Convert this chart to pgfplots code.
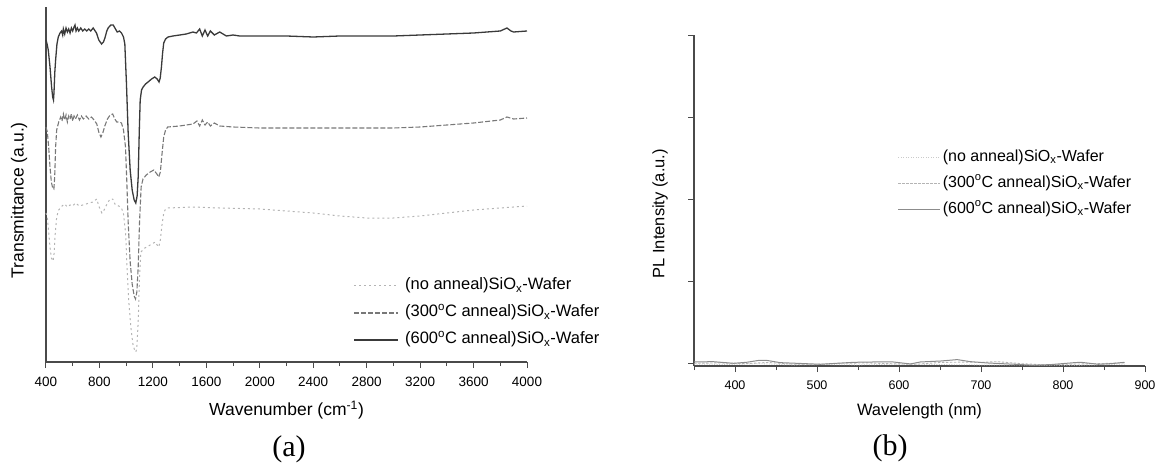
\documentclass[border=0pt]{standalone}
\usepackage{fontspec}
\setmainfont{Liberation Sans}
\newfontfamily\capfont{Liberation Serif}
\usepackage{pgfplots}
\pgfplotsset{compat=1.18}
\definecolor{axisgray}{HTML}{4A4A4A}
\definecolor{c600}{HTML}{3A3A3A}
\definecolor{c300}{HTML}{787878}
\definecolor{c000}{HTML}{B4B4B4}
\definecolor{p600}{HTML}{8C8C8C}
\definecolor{p300}{HTML}{B4B4B4}
\definecolor{p000}{HTML}{CACACA}

\pgfplotsset{
  panel/.style={
    scale only axis, anchor=south west,
    axis lines=left, axis line style={-, axisgray, line width=1.2pt},
    tick align=outside, tick style={axisgray, line width=1pt},
    major tick length=6pt, minor tick length=4pt,
    /pgf/number format/assume math mode=true,
    /pgf/number format/1000 sep={},
    scaled ticks=false, clip=false,
    legend cell align=left,
  },
}

\begin{document}
\begin{tikzpicture}
\path[use as bounding box] (0,0) rectangle (1159pt,464pt);

% (a) FTIR
\begin{axis}[panel,
  at={(46pt,102pt)}, width=481pt, height=355pt,
  xmin=400, xmax=4000, ymin=0, ymax=355,
  xtick={400,800,...,4000}, minor xtick={600,1000,...,3800},
  ytick=\empty,
  xticklabel style={font=\fontsize{13.5}{14}\selectfont, yshift=-6pt},
  xlabel={Wavenumber (cm\textsuperscript{-1})},
  ylabel={Transmittance (a.u.)},
  xlabel style={font=\fontsize{17.5}{18}\selectfont, at={(axis description cs:0.5,-0.135)}, anchor=center},
  ylabel style={font=\fontsize{17.5}{18}\selectfont, at={(axis description cs:-0.056,0.456)}, anchor=center},
  legend image code/.code={\draw[#1] (0pt,0pt) -- (44pt,0pt);},
  legend style={draw=none, fill=none, inner sep=0pt, outer sep=0pt,
    at={(rel axis cs:0.640,0.236)}, anchor=north west,
    font=\fontsize{16.5}{17}\selectfont, row sep=11.5pt,
    nodes={inner sep=0pt, text height=11.5pt, text depth=4pt},
    /tikz/every odd column/.append style={column sep=6pt}},
]
\addplot[c000, line width=1pt, dash pattern=on 2pt off 3pt] coordinates {
(400,149)(410,145)(420,130)(430,115)(440,104)(453,101)(460,108)(470,130)(480,145)(495,152)
(520,156)(540,158)(560,155)(580,157)(600,156)(620,159)(650,156)(700,158)(750,160)(780,163)
(795,156)(818,149)(835,152)(860,159)(880,163)(899,163)(920,157)(945,156)(965,154)(980,148)
(995,130)(1005,100)(1020,60)(1035,35)(1050,18)(1065,11)(1072,10)(1080,14)(1090,40)(1100,85)
(1110,110)(1140,114)(1180,117)(1218,120)(1232,117)(1244,115)(1256,122)(1268,137)(1281,149)
(1295,153)(1311,154)(1500,155)(1700,154)(2000,153)(2200,151)(2400,149)(2600,146)(2800,144)
(3000,144)(3200,146)(3400,149)(3600,152)(3800,154)(4000,156)};
\addplot[c300, line width=1.1pt, dash pattern=on 5pt off 2pt] coordinates {
(400,235)(410,230)(420,215)(430,195)(440,180)(450,174)(459,173)(465,185)(472,215)(480,232)
(495,240)(510,245)(520,241)(530,248)(540,242)(550,247)(560,240)(570,246)(580,243)(590,248)
(600,241)(610,246)(620,243)(635,247)(650,242)(665,246)(680,243)(700,246)(720,243)(740,245)
(760,242)(780,238)(795,230)(811,225)(825,229)(840,236)(860,243)(880,247)(899,248)(915,243)
(930,240)(950,240)(965,239)(980,232)(995,215)(1005,180)(1015,140)(1030,100)(1045,78)(1060,66)
(1070,63)(1080,70)(1090,95)(1100,140)(1112,175)(1126,183)(1150,187)(1180,190)(1207,192)
(1230,188)(1244,185)(1256,190)(1266,205)(1281,225)(1295,232)(1311,235)(1400,236)(1500,238)
(1530,241)(1550,236)(1570,242)(1590,237)(1610,240)(1630,236)(1660,239)(1700,236)(1800,235)
(2000,234)(2200,234)(2400,234)(2600,234)(2800,234)(3000,234)(3200,235)(3400,237)(3600,239)
(3800,242)(3850,245)(3900,243)(4000,244)};
\addplot[c600, line width=1.3pt] coordinates {
(400,322)(408,318)(417,312)(430,295)(442,275)(450,265)(456,262)(460,270)(466,290)(472,302)
(482,318)(492,325)(505,329)(517,331)(525,327)(530,333)(540,328)(550,334)(560,330)(570,333)
(580,329)(590,334)(600,331)(610,335)(617,337)(625,331)(635,334)(645,331)(660,334)(675,331)
(690,333)(705,331)(720,333)(735,331)(753,334)(778,329)(795,322)(816,318)(830,320)
(841,324)(855,331)(865,334)(885,337)(903,337)(920,333)(933,330)(950,331)(965,329)(980,325)
(990,318)(1002,279)(1015,229)(1030,192)(1045,172)(1060,162)(1072,159)(1082,166)(1090,185)
(1098,230)(1105,262)(1115,272)(1127,275)(1145,278)(1164,280)(1190,283)(1214,285)(1232,283)
(1246,280)(1255,284)(1264,295)(1272,308)(1281,319)(1295,323)(1313,325)(1350,326)(1401,327)
(1450,328)(1500,330)(1526,329)(1550,333)(1570,326)(1590,332)(1610,326)(1630,331)(1660,327)
(1700,330)(1750,326)(1800,327)(1850,326)(2000,326)(2200,326)(2400,325)(2600,326)(2800,326)
(3000,326)(3200,327)(3400,328)(3600,329)(3800,331)(3850,334)(3880,331)(3900,330)(4000,331)};
\legend{(no anneal)SiO\textsubscript{x}-Wafer,
        (300\textsuperscript{o}C anneal)SiO\textsubscript{x}-Wafer,
        (600\textsuperscript{o}C anneal)SiO\textsubscript{x}-Wafer}
\end{axis}

% (b) PL
\begin{axis}[panel,
  at={(694pt,98pt)}, width=451pt, height=331pt,
  xmin=350, xmax=900, ymin=-0.033, ymax=4,
  xtick={400,500,...,900}, minor xtick={350,450,...,850},
  ytick={0,1,2,3,4}, yticklabels={},
  xticklabel style={font=\fontsize{12.5}{13}\selectfont, yshift=-5pt},
  xlabel={Wavelength (nm)},
  ylabel={PL Intensity (a.u.)},
  xlabel style={font=\fontsize{16.5}{17}\selectfont, at={(axis description cs:0.5,-0.136)}, anchor=center},
  ylabel style={font=\fontsize{16.5}{17}\selectfont, at={(axis description cs:-0.075,0.46)}, anchor=center},
  legend image code/.code={\draw[#1] (0pt,0pt) -- (42pt,0pt);},
  legend style={draw=none, fill=none, inner sep=0pt, outer sep=0pt,
    at={(rel axis cs:0.452,0.654)}, anchor=north west,
    font=\fontsize{16}{17}\selectfont, row sep=10.5pt,
    nodes={inner sep=0pt, text height=11.5pt, text depth=4pt},
    /tikz/every odd column/.append style={column sep=2pt}},
]
\addplot[p000, line width=0.8pt, dash pattern=on 1pt off 1.5pt] coordinates {
(350,-0.010)(390,-0.015)(430,-0.005)(470,-0.020)(510,-0.015)(550,-0.020)(600,-0.010)
(650,-0.015)(700,-0.020)(750,-0.020)(800,-0.025)(840,-0.020)(875,-0.010)};
\addplot[p300, line width=0.9pt, dash pattern=on 2.5pt off 1.5pt] coordinates {
(350,0.000)(380,0.005)(410,-0.005)(440,0.010)(470,-0.010)(500,-0.012)(530,0.000)(560,0.005)
(590,-0.005)(620,-0.012)(650,0.010)(680,0.015)(700,0.012)(720,0.020)(750,-0.005)(780,-0.020)
(810,-0.010)(840,-0.005)(875,0.005)};
\addplot[p600, line width=1pt] coordinates {
(350,0.016)(373,0.020)(398,0.000)(414,0.012)(430,0.037)(439,0.035)(455,0.008)(475,0.000)
(504,-0.012)(524,0.000)(545,0.012)(569,0.016)(593,0.016)(614,-0.008)(626,0.016)(651,0.028)
(671,0.045)(687,0.020)(708,0.004)(741,-0.012)(765,-0.024)(786,-0.015)(814,0.008)(822,0.012)
(843,-0.012)(859,-0.004)(875,0.012)};
\legend{(no anneal)SiO\textsubscript{x}-Wafer,
        (300\textsuperscript{o}C anneal)SiO\textsubscript{x}-Wafer,
        (600\textsuperscript{o}C anneal)SiO\textsubscript{x}-Wafer}
\end{axis}

\node[font=\capfont\fontsize{30}{30}\selectfont] at (289pt,15pt) {(a)};
\node[font=\capfont\fontsize{30}{30}\selectfont] at (890pt,16pt) {(b)};
\end{tikzpicture}
\end{document}
